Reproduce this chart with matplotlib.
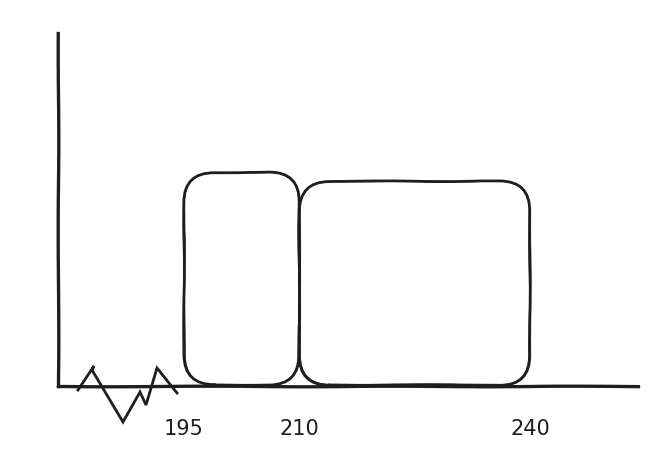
import matplotlib
matplotlib.use("Agg")
import matplotlib.pyplot as plt
from matplotlib.patches import FancyBboxPatch
from matplotlib.lines import Line2D

# data
bin_edges = [195, 210, 240]
bar_heights = [6.05, 5.8]
tick_values = [195, 210, 240]
tick_labels = ["195", "210", "240"]

W, H = 670, 454
fig = plt.figure(figsize=(W / 100, H / 100), dpi=100)
left, right, bottom, top = 58 / W, 638 / W, (H - 386) / H, (H - 33) / H
ax = fig.add_axes([left, bottom, right - left, top - bottom])

px_per_unit = (530 - 184) / 45.0
x0 = 195 - (184 - 58) / px_per_unit
x1 = 195 + (638 - 184) / px_per_unit
ax.set_xlim(x0, x1)
ax.set_ylim(0, 10)

for s in ["top", "right"]:
    ax.spines[s].set_visible(False)
for s in ["left", "bottom"]:
    ax.spines[s].set_linewidth(2.4)
    ax.spines[s].set_color("#1e1e1e")
    ax.spines[s].set_sketch_params(scale=0.3, length=300, randomness=5)

ax.set_yticks([])
ax.set_xticks(tick_values)
ax.set_xticklabels(tick_labels, fontsize=15, color="#1e1e1e")
ax.tick_params(axis="x", length=0, pad=24)

# aspect for rounded corners
y_per_px = 10 / 353.0
x_per_px = 1 / px_per_unit
aspect = y_per_px / x_per_px
r_px = 30
for i, h in enumerate(bar_heights):
    xa, xb = bin_edges[i], bin_edges[i + 1]
    for k, jit in enumerate([0.0, 0.1]):
        p = FancyBboxPatch((xa + jit, 0.03), xb - xa - 2 * jit, h - 0.03,
                           boxstyle=f"round,pad=0,rounding_size={r_px * x_per_px}",
                           mutation_aspect=aspect, fill=False,
                           edgecolor="#1e1e1e", linewidth=2.0 if k == 0 else 0.9,
                           clip_on=False)
        p.set_sketch_params(scale=0.35, length=250, randomness=8 + k)
        ax.add_patch(p)

# axis-break zigzag (decoration in pixel->axes coordinates)
zz_px = [(78, 390), (94, 366), (92, 370), (123, 422), (140, 392), (146, 405), (157, 368), (177, 393)]
zx = [(px - 58) / (638 - 58) for px, _ in zz_px]
zy = [(386 - py) / 353.0 for _, py in zz_px]
ln = Line2D(zx, zy, transform=ax.transAxes, color="#1e1e1e", linewidth=2.0,
            clip_on=False, solid_joinstyle="miter")
ax.add_line(ln)

fig.savefig("out.png", dpi=100, facecolor="white")
